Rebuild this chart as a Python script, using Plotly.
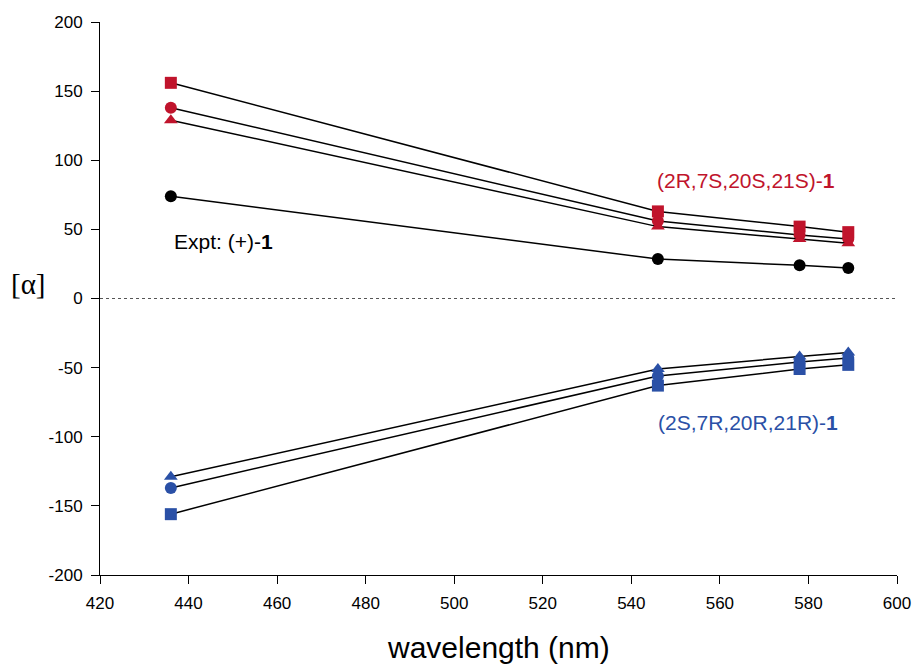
import plotly.graph_objects as go

wavelength = [436, 546, 578, 589]

red_square = [156, 63, 52, 48]
red_circle = [138, 56, 46, 43]
red_triangle = [129, 52, 43, 40]
expt = [74, 28.5, 24, 22]
blue_triangle = [-129, -51, -42, -39]
blue_circle = [-137, -56, -46, -43]
blue_square = [-156, -63, -51, -48]

x_ticks = [420, 440, 460, 480, 500, 520, 540, 560, 580, 600]
y_ticks = [-200, -150, -100, -50, 0, 50, 100, 150, 200]
y_tick_labels = ["-200", "-150", "-100", "-50", "0", "50", "100", "150", "200"]

RED = "#C0142C"
BLUE = "#2A50A6"

series = [
    (red_square, "square", RED),
    (red_circle, "circle", RED),
    (red_triangle, "triangle-up", RED),
    (expt, "circle", "black"),
    (blue_triangle, "triangle-up", BLUE),
    (blue_circle, "circle", BLUE),
    (blue_square, "square", BLUE),
]

fig = go.Figure()
for ys, sym, col in series:
    fig.add_trace(go.Scatter(
        x=wavelength, y=ys, mode="lines+markers",
        line=dict(color="black", width=1.5),
        marker=dict(symbol=sym, color=col, size=12, line=dict(width=0)),
        showlegend=False, cliponaxis=False,
    ))

fig.add_shape(type="line", x0=420, x1=600, y0=0, y1=0, xref="x", yref="y",
              line=dict(color="#555555", width=1.2, dash="dot"))

fig.add_annotation(x=545.3, y=85.7, xref="x", yref="y", text="(2R,7S,20S,21S)-<b>1</b>",
                   showarrow=False, xanchor="left", font=dict(color=RED, size=21))
fig.add_annotation(x=436.3, y=41, xref="x", yref="y", text="Expt: (+)-<b>1</b>",
                   showarrow=False, xanchor="left", font=dict(color="black", size=21))
fig.add_annotation(x=545.6, y=-90, xref="x", yref="y", text="(2S,7R,20R,21R)-<b>1</b>",
                   showarrow=False, xanchor="left", font=dict(color=BLUE, size=21))

# axis titles
fig.add_annotation(x=0.5, y=-0.132, xref="paper", yref="paper", text="wavelength (nm)",
                   showarrow=False, xanchor="center", yanchor="middle",
                   font=dict(size=30, color="black"))
fig.add_annotation(x=-0.0903, y=0.526, xref="paper", yref="paper", text="[α]",
                   showarrow=False, xanchor="center", yanchor="middle",
                   font=dict(size=29, color="black",
                             family="Liberation Serif, Times New Roman, serif"))

fig.update_layout(
    width=912, height=665,
    margin=dict(l=100, r=15, t=22, b=90),
    plot_bgcolor="white", paper_bgcolor="white",
    font=dict(family="Liberation Sans, Arial, sans-serif", color="black"),
)
fig.update_xaxes(
    range=[420, 600], tickvals=x_ticks, ticktext=[str(v) for v in x_ticks],
    showline=True, linecolor="black", linewidth=1,
    ticks="outside", ticklen=8, tickcolor="black",
    showgrid=False, zeroline=False, automargin=False,
    tickfont=dict(size=17), ticklabelstandoff=5,
)
fig.update_yaxes(
    range=[-200, 200], tickvals=y_ticks, ticktext=y_tick_labels,
    showline=True, linecolor="black", linewidth=1,
    ticks="outside", ticklen=8, tickcolor="black",
    showgrid=False, zeroline=False, automargin=False,
    tickfont=dict(size=17), ticklabelstandoff=5,
)

fig.write_html("out.html")
